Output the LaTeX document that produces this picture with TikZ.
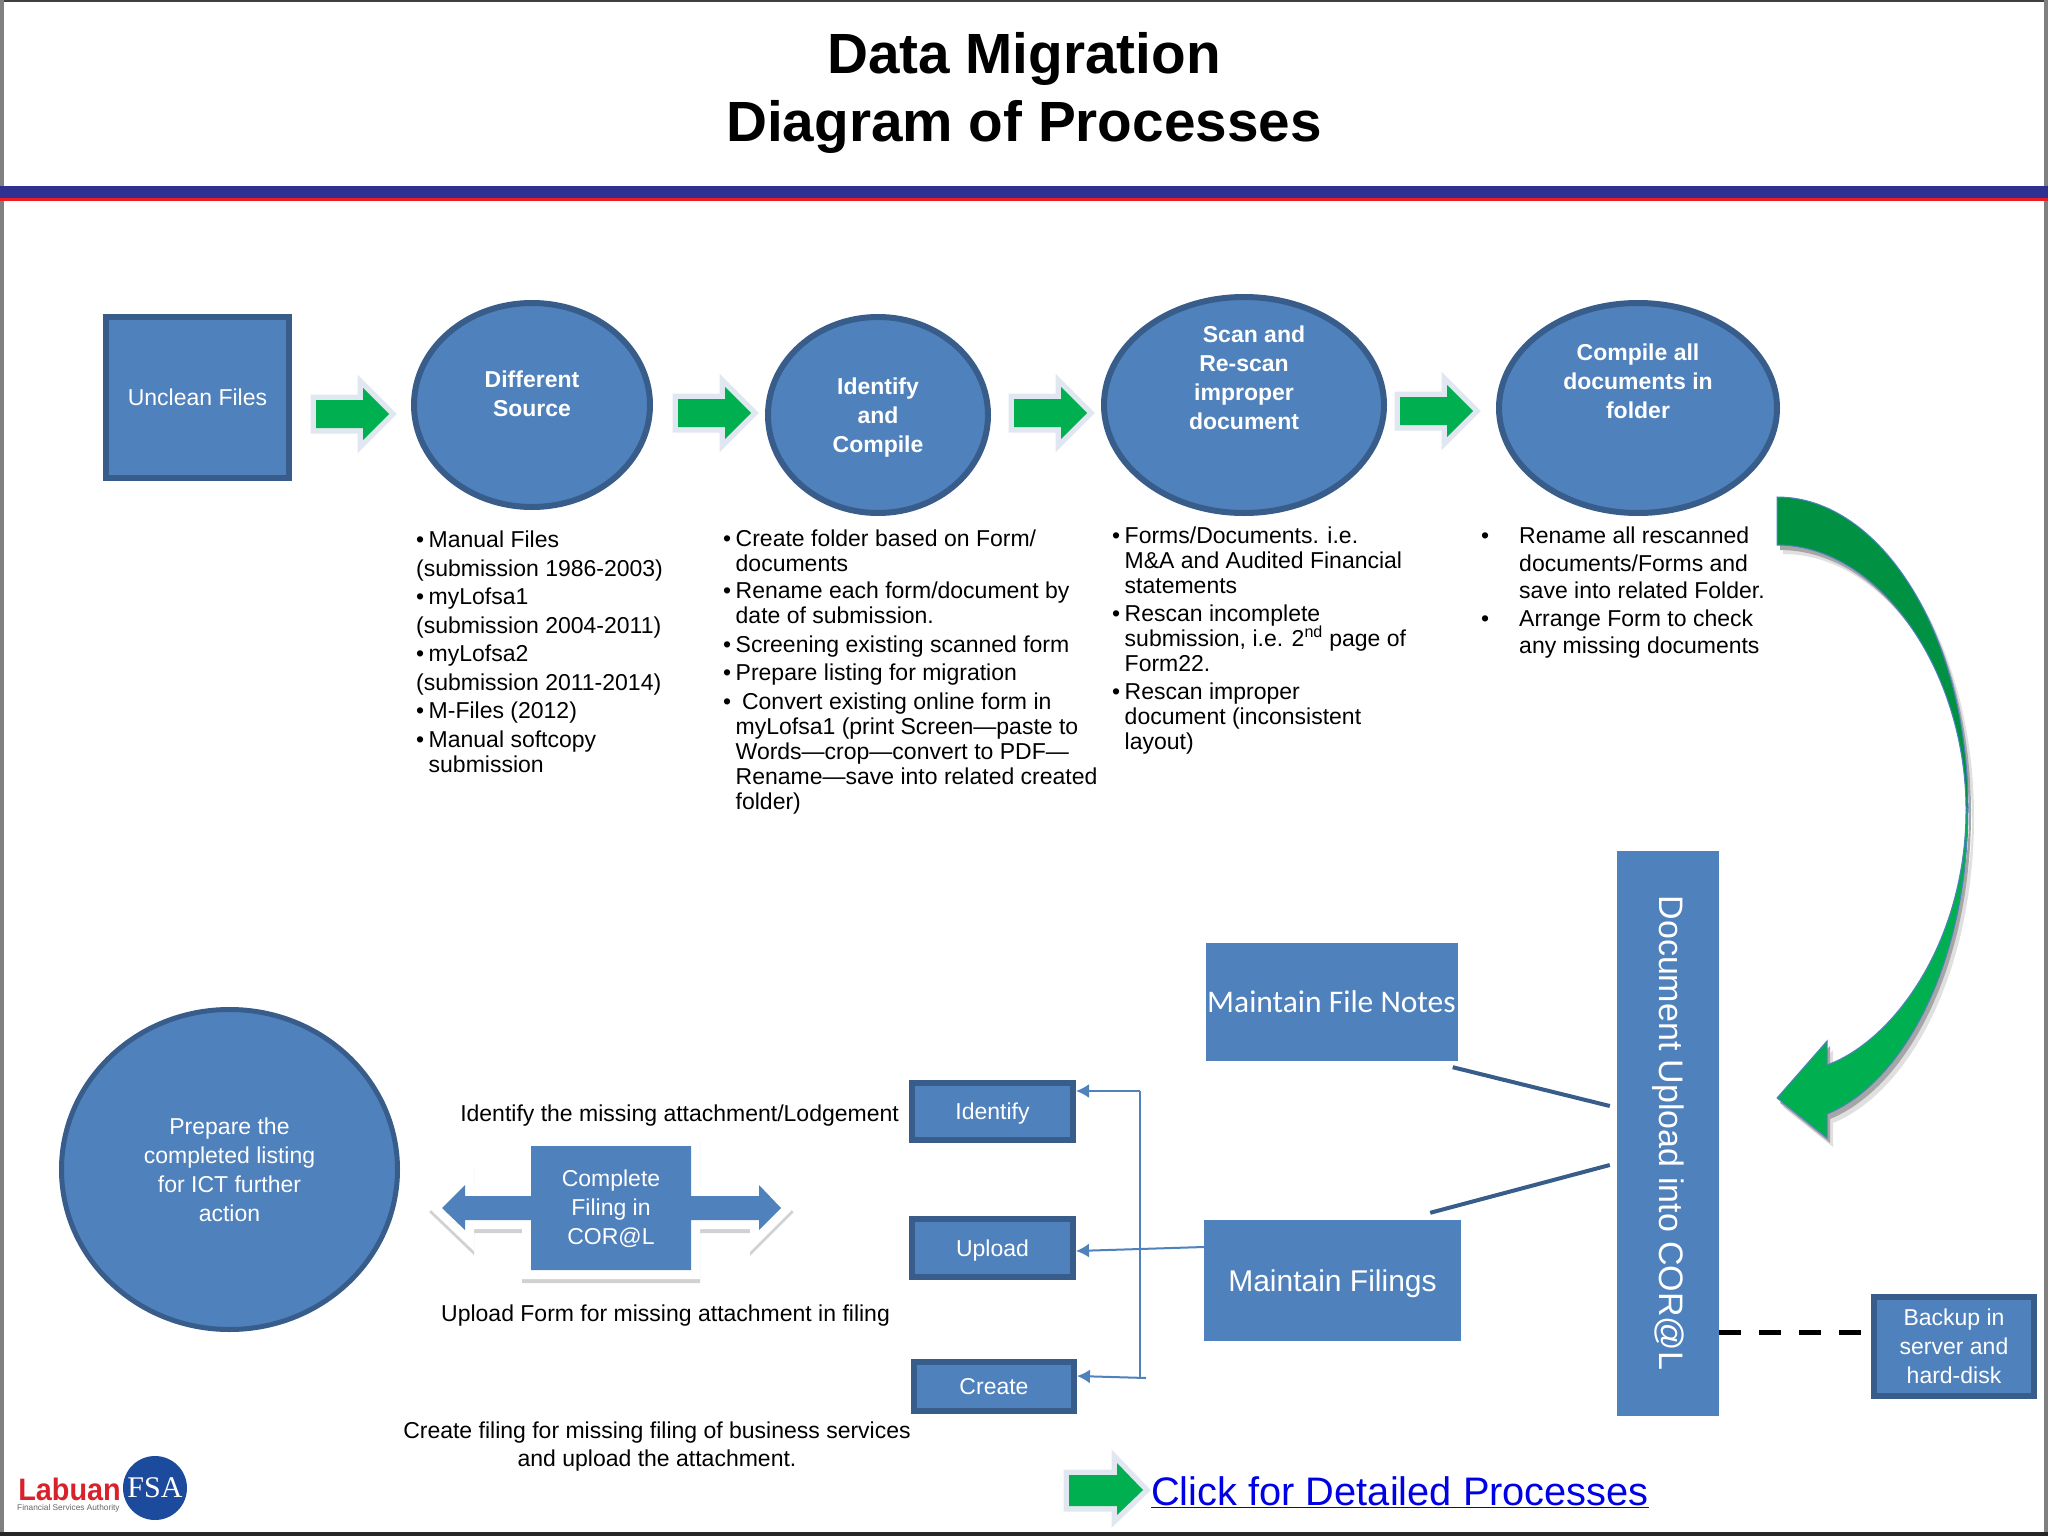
\documentclass[tikz,border=0pt]{standalone}
\usepackage{fontspec}
\setmainfont{Liberation Sans}
\newfontfamily\calfont{Carlito}
\newfontfamily\logofont{Liberation Serif}
\usetikzlibrary{calc,shapes.geometric,arrows.meta}
\definecolor{boxblue}{HTML}{4F81BD}
\definecolor{boxedge}{HTML}{385D8A}
\definecolor{headblue}{HTML}{2E3192}
\definecolor{headred}{HTML}{ED1C24}
\definecolor{arrowgreen}{HTML}{00B050}
\definecolor{darkgreen}{HTML}{009143}
\definecolor{halo}{HTML}{E1E7F0}
\definecolor{linkblue}{HTML}{0000E6}
\definecolor{logoblue}{HTML}{1C4A9C}
\definecolor{logored}{HTML}{D9212C}
\newcommand{\fsz}[2]{\fontsize{#1}{#2}\selectfont}
\newcommand{\bl}[1][12.5pt]{\makebox[#1][l]{\textbullet}}
\newcommand{\hs}[1][12.5pt]{\hspace*{#1}}
\def\bigtop{(1777,497) .. controls (1882,497) and (1968,637) .. (1968,808)
  -- (1966,810) .. controls (1966,672) and (1880,545) .. (1777,545) -- cycle}
\def\biglow{(1968,808) .. controls (1968,960) and (1905,1082) .. (1827,1114)
  -- (1827,1138) -- (1777,1098) -- (1827,1041) -- (1827,1065)
  .. controls (1895,1040) and (1966,940) .. (1966,810) -- cycle}
\def\bothhead{(442,1208) -- (465,1185) -- (465,1196) -- (531,1196) -- (531,1146)
  -- (691,1146) -- (691,1196) -- (759,1196) -- (759,1185) -- (781,1208)
  -- (759,1230) -- (759,1220) -- (691,1220) -- (691,1270) -- (531,1270)
  -- (531,1220) -- (465,1220) -- (465,1230) -- cycle}
\begin{document}
\begin{tikzpicture}[x=1pt,y=-1pt,
	procstep/.style={ellipse,draw=boxedge,line width=6pt,fill=boxblue,text=white,
		inner sep=0pt,align=center,font=\fsz{23}{29}\bfseries},
	plainbox/.style={rectangle,draw=boxedge,line width=6pt,fill=boxblue,text=white,
		inner sep=0pt,align=center,font=\fsz{23}{29}},
	flatbox/.style={rectangle,fill=boxblue,text=white,inner sep=0pt,align=center},
	notes/.style={anchor=north west,inner sep=0pt,align=left,font=\fsz{23}{25}},
	caption/.style={inner sep=0pt,align=center,font=\fsz{23}{28}},
	greenarrow/.style={fill=arrowgreen,preaction={draw=halo,line width=11pt,miter limit=10}},
	feed/.style={draw=boxblue,line width=2pt,-{Latex[length=13pt,width=14pt]}},
	tie/.style={draw=boxedge,line width=4pt}]
	\useasboundingbox (0,0) rectangle (2048,1536);
	\fill[white] (0,0) rectangle (2048,1536);

	\draw[black!75,line width=2pt] (0,1) -- (2048,1);
	\fill[black!50] (0,0) rectangle (4,1536);
	\fill[black!50] (2044,0) rectangle (2048,1536);
	\fill[black!85] (0,1532) rectangle (2048,1536);
	\fill[headblue] (0,186) rectangle (2048,198);
	\fill[headred] (0,198) rectangle (2048,201);

	\node[inner sep=0pt,align=center,font=\fsz{56.7}{68}\bfseries] (title) at (1024,93)
		{Data Migration\\Diagram of Processes};

	\node[plainbox,minimum width=183pt,minimum height=161pt] (unclean) at (197.5,397.5) {Unclean Files};
	\node[procstep,minimum width=236pt,minimum height=204pt] (source) at (532,405) {};
	\node[text=white,align=center,font=\fsz{23}{29}\bfseries] at (532,394) {Different\\Source};
	\node[procstep,minimum width=220pt,minimum height=196pt,text depth=0pt] (compile) at (878,415) {Identify\\and\\Compile};
	\node[procstep,minimum width=280pt,minimum height=216pt] (scan) at (1244,405) {};
	\node[text=white,align=center,font=\fsz{23}{29}\bfseries] at (1244,378) {\hspace*{20pt}Scan and\\Re-scan\\improper\\document};
	\node[procstep,minimum width=278pt,minimum height=210pt] (folder) at (1638,408) {};
	\node[text=white,align=center,font=\fsz{23}{29}\bfseries] at (1638,381) {Compile all\\documents in\\folder};

	\foreach \x/\y in {316/414,678/413,1014/413,1400/411}{
		\path[greenarrow,shift={(\x,\y)}]
			(0,-14) -- ++(47,0) -- ++(0,-12) -- ++(26,26) -- ++(-26,26) -- ++(0,-12) -- ++(-47,0) -- cycle;}
	\path[greenarrow] (1069,1475) -- (1117,1475) -- (1117,1463) -- (1143,1490) -- (1117,1515) -- (1117,1506) -- (1069,1506) -- cycle;

	\node[notes] (list1) at (416,531) {\bl Manual Files\\[3.5pt](submission 1986-2003)\\[3.5pt]\bl myLofsa1\\[3.5pt](submission 2004-2011)\\[3.5pt]\bl myLofsa2\\[3.5pt](submission 2011-2014)\\[3.5pt]\bl M-Files (2012)\\[3.5pt]\bl Manual softcopy\\\hs submission};
	\node[notes] (list2) at (723,530) {\bl Create folder based on Form/\\\hs documents\\[2pt]\bl Rename each form/document by\\\hs date of submission.\\[3.5pt]\bl Screening existing scanned form\\[3.5pt]\bl Prepare listing for migration\\[3.5pt]\bl \ Convert existing online form in\\\hs myLofsa1 (print Screen---paste to\\\hs Words---crop---convert to PDF---\\\hs Rename---save into related created\\\hs folder)};
	\node[notes] (list3) at (1112,527) {\bl Forms/Documents. i.e.\\\hs M\&A and Audited Financial\\\hs statements\\[3pt]\bl Rescan incomplete\\\hs submission, i.e. 2\smash{\textsuperscript{nd}} page of\\\hs Form22.\\[3pt]\bl Rescan improper\\\hs document (inconsistent\\\hs layout)};
	\node[notes,font=\fsz{23}{27.5}] (list4) at (1481,527) {\bl[38pt]Rename all rescanned\\\hs[38pt]documents/Forms and\\\hs[38pt]save into related Folder.\\\bl[38pt]Arrange Form to check\\\hs[38pt]any missing documents};

	\foreach \sx/\sy/\sh in {6/9/12,3/5/35}{
		\fill[black!\sh,shift={(\sx,\sy)}] \bigtop;
		\fill[black!\sh,shift={(\sx,\sy)}] \biglow;}
	\filldraw[fill=darkgreen,draw=boxblue,line width=1pt] \bigtop;
	\filldraw[fill=arrowgreen,draw=boxblue,line width=1pt] \biglow;

	\node[ellipse,draw=boxedge,line width=5pt,fill=boxblue,text=white,inner sep=0pt,align=center,
		font=\fsz{23}{29},minimum width=336pt,minimum height=320pt] (prepare) at (229.5,1169.5)
		{Prepare the\\completed listing\\for ICT further\\action};

	\draw[black!18,line width=18pt,miter limit=10,shift={(0,4)}] \bothhead;
	\draw[white,line width=18pt,miter limit=10] \bothhead;
	\fill[boxblue] \bothhead;
	\node[text=white,align=center,font=\fsz{23}{29}] (complete) at (611,1209) {Complete\\Filing in\\COR@L};

	\node[caption,anchor=east] (lblident) at (899,1115.5) {Identify the missing attachment/Lodgement};
	\node[caption,anchor=west] (lblupload) at (441,1315.5) {Upload Form for missing attachment in filing};
	\node[caption] (lblcreate) at (657,1446.5) {Create filing for missing filing of business services\\and upload the attachment.};

	\node[plainbox,minimum width=161pt,minimum height=57pt,text depth=0pt] (identify) at (992.5,1111.5) {Identify};
	\node[plainbox,minimum width=161pt,minimum height=58pt,text depth=0pt] (upload) at (992.5,1248) {Upload};
	\node[plainbox,minimum width=160pt,minimum height=49pt] (create) at (994,1386.5) {Create};

	\node[flatbox,minimum width=252pt,minimum height=118pt,font=\calfont\fsz{31.5}{36}] (filenotes) at (1331.5,1002) {Maintain File Notes};
	\node[flatbox,minimum width=257pt,minimum height=121pt,text depth=0pt,font=\fsz{30}{36}] (filings) at (1332.5,1280.5) {Maintain Filings};
	\node[flatbox,minimum width=102pt,minimum height=565pt] (coral) at (1668,1133.5) {};
	\node[text=white,rotate=-90,inner sep=0pt,font=\fsz{34}{38}] at (1668,1133) {Document Upload into COR@L};
	\node[plainbox,minimum width=160pt,minimum height=99pt] (backup) at (1954,1346.5) {Backup in\\server and\\hard-disk};

	\coordinate (busT) at (1140,1091);
	\coordinate (busB) at (1146,1378);
	\draw[draw=boxblue,line width=2pt] (busT) -- (1140,1378) -- (busB);
	\draw[feed] (busT) -- (busT -| identify.east);
	\draw[feed] (filings.west |- 0,1247) -- (upload.east |- 0,1251);
	\draw[feed] (busB) -- (create.east |- 0,1376);

	\draw[tie] (filenotes.south east) ++(-5,6) -- ($(coral.west |- 0,1106)+(-7,0)$);
	\draw[tie] (filings.north east) ++(-31,-7) -- ($(coral.west |- 0,1165)+(-7,0)$);
	\draw[black,line width=5pt,dash pattern=on 22pt off 18pt] (coral.east |- 0,1332) -- (backup.west |- 0,1332);

	\node[anchor=base west,inner sep=0pt,text=linkblue,font=\fsz{39.8}{46}] (link) at (1151,1505) {\underline{Click for Detailed Processes}};

	\node[circle,fill=logoblue,minimum size=64pt,inner sep=0pt,text=white,font=\logofont\fsz{30}{30}] (logoseal) at (155,1488) {FSA};
	\node[anchor=east,inner sep=0pt,text=logored,font=\fsz{31}{31}\bfseries] (logoname) at (121,1489) {\scalebox{.93}[1]{Labuan}};
	\node[anchor=west,inner sep=0pt,text=black!60,font=\fsz{8.3}{9}] (logosub) at (17,1508) {Financial Services Authority};
\end{tikzpicture}
\end{document}
